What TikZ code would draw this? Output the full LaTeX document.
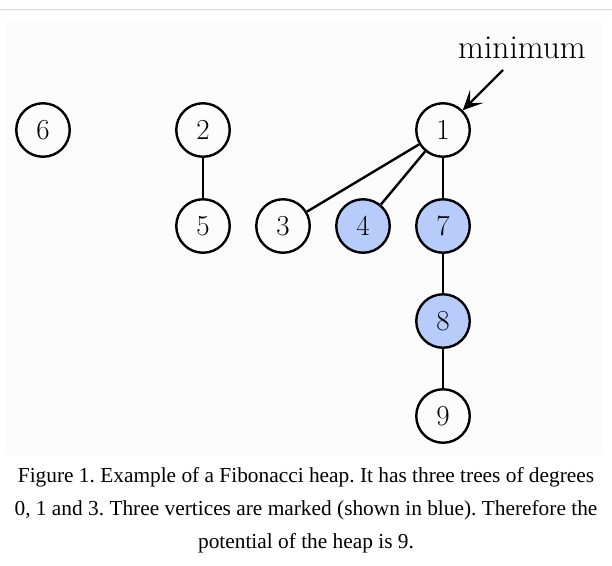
\documentclass[tikz,border=0pt]{standalone}
\usepackage{fontspec}
\newfontfamily\capfont{Liberation Serif}
\usetikzlibrary{arrows.meta}
\definecolor{markblue}{RGB}{183,204,250}
\definecolor{panelgray}{RGB}{252,252,252}
\definecolor{rulegray}{RGB}{215,215,215}

\begin{document}
\frenchspacing
\begin{tikzpicture}[x=1pt, y=-1pt,
  vertex/.style={circle, draw, line width=2.4pt, minimum size=53.5pt, inner sep=0pt,
    font=\fontsize{29}{29}\selectfont},
  marked/.style={vertex, fill=markblue},
  edge/.style={line width=2.4pt},
  arr/.style={-{Stealth[length=20pt, width=19pt, inset=10pt]}, line width=2.4pt}
]

% Page frame
\useasboundingbox (0,0) rectangle (612,565);
\draw[rulegray, line width=1.5pt] (0,9.5) -- (612,9.5);
\fill[panelgray] (5,22) rectangle (603,455);

% Roots
\node[vertex] (n6) at (43,130) {6};
\node[vertex] (n2) at (203,130) {2};
\node[vertex] (n1) at (443,130) {1};

% Children
\node[vertex] (n5) at (203,226) {5};
\node[vertex] (n3) at (283,226) {3};
\node[marked] (n4) at (363,226) {4};
\node[marked] (n7) at (443,226) {7};
\node[marked] (n8) at (443,321) {8};
\node[vertex] (n9) at (443,416) {9};

% Tree edges
\draw[edge] (n2) -- (n5);
\foreach \c in {n3,n4,n7}{
  \draw[edge] (n1) -- (\c);
}
\draw[edge] (n7) -- (n8);
\draw[edge] (n8) -- (n9);

% Minimum pointer
\node[anchor=base, font=\fontsize{33.5}{33.5}\selectfont] (minlabel) at (522,58) {minimum};
\coordinate (mintail) at (503,70);
\draw[arr] (mintail) -- (n1);

% Caption
\node[align=center, font=\capfont\fontsize{21.35}{33}\selectfont] (caption) at (306,510)
  {Figure 1. Example of a Fibonacci heap. It has three trees of degrees\\
   0, 1 and 3. Three vertices are marked (shown in blue). Therefore the\\
   potential of the heap is 9.};

\end{tikzpicture}
\end{document}
